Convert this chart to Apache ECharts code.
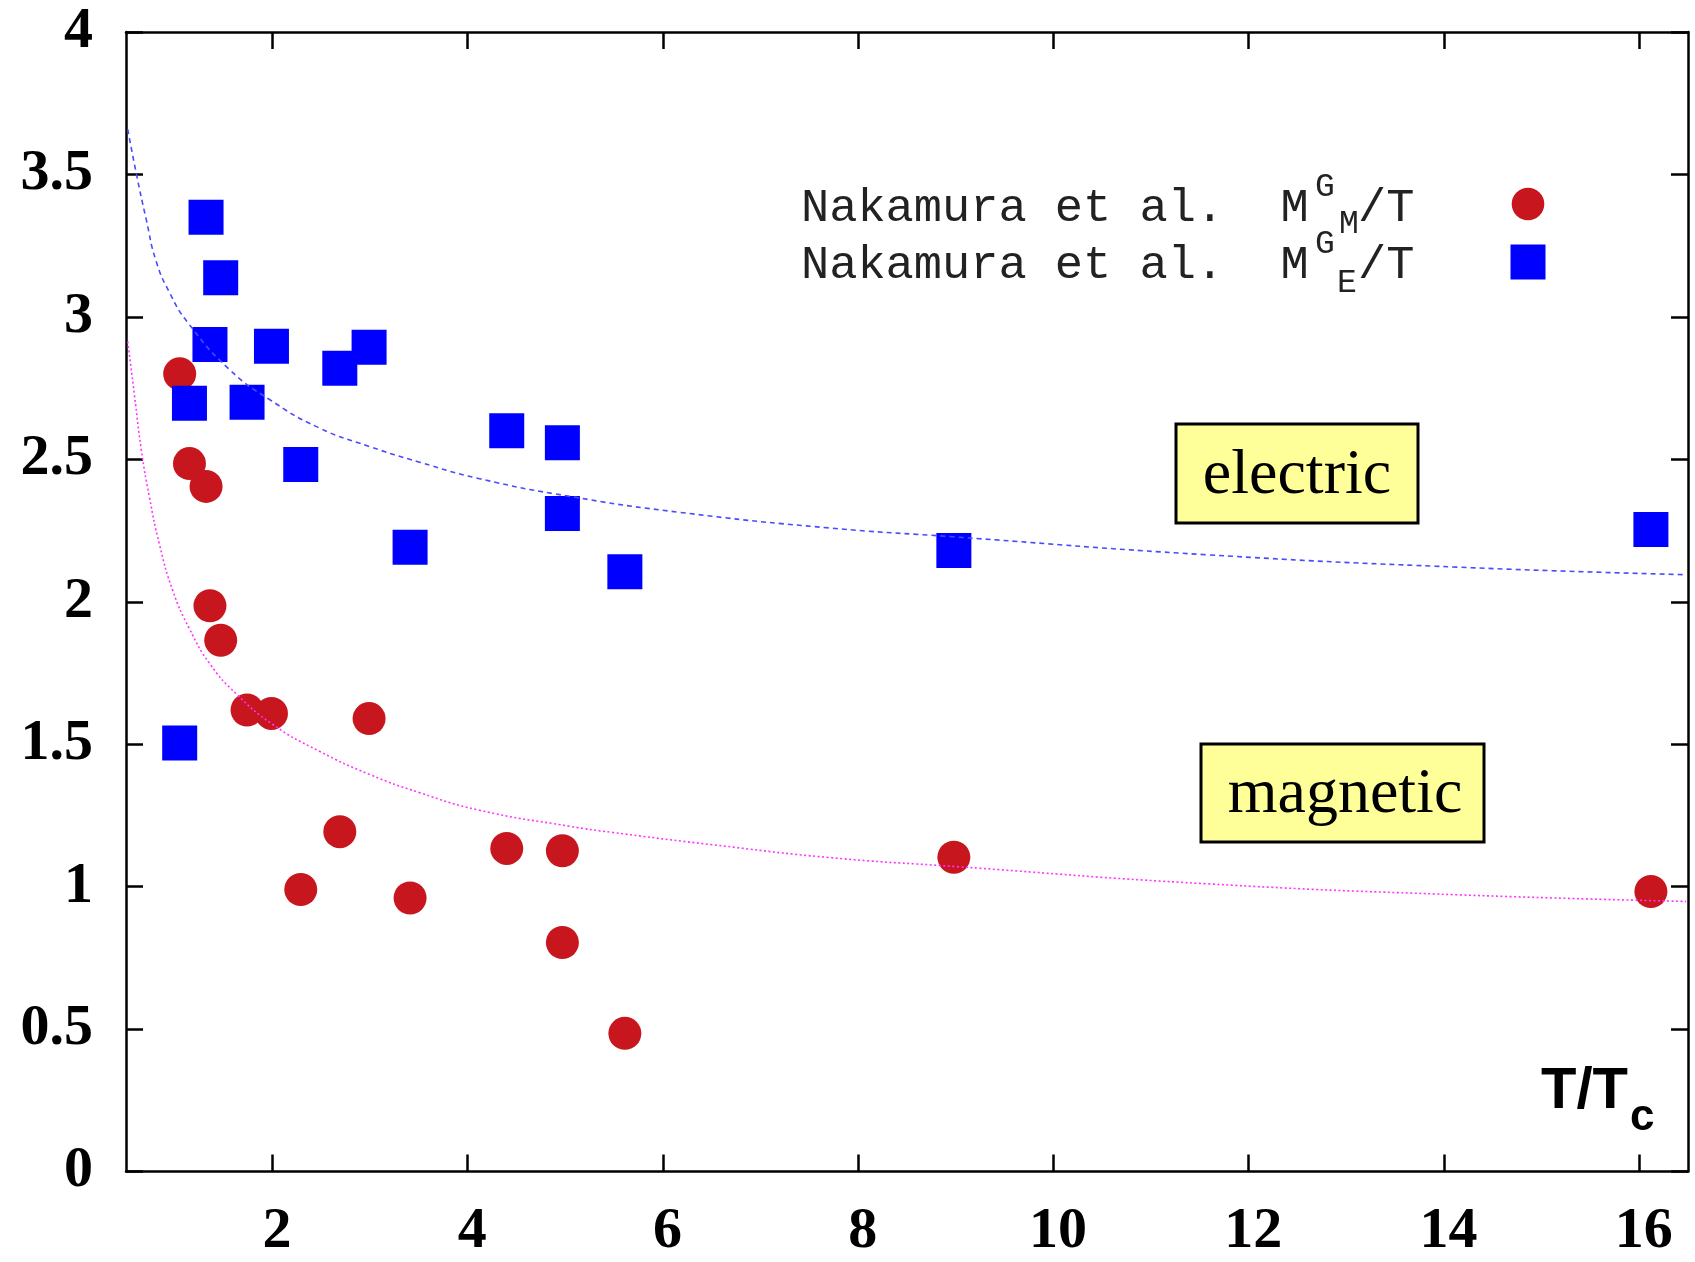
<!DOCTYPE html>
<html>
<head>
<meta charset="utf-8">
<script src="https://cdn.jsdelivr.net/npm/echarts@6/dist/echarts.min.js"></script>
<style>
html,body{margin:0;padding:0;background:#fff;}
#chart{width:1695px;height:1262px;}
</style>
</head>
<body>
<div id="chart"></div>
<script>
// ---- data ----
const temperatures = [1.05, 1.15, 1.32, 1.36, 1.47, 1.74, 1.99, 2.29, 2.69, 2.99, 3.41, 4.40, 4.97, 4.97, 5.61, 8.98, 16.12];
const magneticMass = [2.80, 2.485, 2.405, 1.986, 1.865, 1.62, 1.608, 0.99, 1.193, 1.59, 0.96, 1.134, 1.126, 0.804, 0.485, 1.103, 0.983];
const electricMass = [1.504, 2.697, 3.35, 2.903, 3.137, 2.70, 2.897, 2.482, 2.82, 2.893, 2.191, 2.60, 2.558, 2.31, 2.105, 2.18, 2.254];

const electricFitX = [0.518, 0.604, 0.707, 0.809, 0.946, 1.133, 1.56, 1.97, 2.48, 2.994, 3.506, 4.121, 5.043, 6.17, 7.706, 8.974, 11.57, 14.17, 16.48];
const electricFitY = [3.658, 3.506, 3.342, 3.195, 3.085, 2.980, 2.815, 2.710, 2.610, 2.545, 2.490, 2.432, 2.370, 2.314, 2.259, 2.228, 2.165, 2.121, 2.095];

const magneticFitX = [0.518, 0.587, 0.656, 0.741, 0.843, 0.979, 1.150, 1.355, 1.629, 2.004, 2.482, 2.994, 3.506, 4.121, 5.043, 5.486, 6.51, 7.706, 8.974, 11.57, 14.17, 16.48];
const magneticFitY = [2.913, 2.725, 2.535, 2.365, 2.201, 2.039, 1.905, 1.784, 1.677, 1.569, 1.475, 1.394, 1.330, 1.268, 1.212, 1.190, 1.147, 1.102, 1.071, 1.010, 0.971, 0.948];

const xTickValues = [2, 4, 6, 8, 10, 12, 14, 16];
const xRange = [0.5, 16.5];
const yRange = [0, 4];
const yStep = 0.5;

const legendMain = 'Nakamura et al.  M';
const legendSup = 'G';
const legendSubM = 'M';
const legendSubE = 'E';
const legendTail = '/T';
const boxElectric = 'electric';
const boxMagnetic = 'magnetic';
const xTitle = 'T/T';
const xTitleSub = 'c';

// ---- chart ----
const RED = '#c8161e';
const BLUE = '#0000ff';
const zip = (xs, ys) => xs.map((x, i) => [x, ys[i]]);

const chart = echarts.init(document.getElementById('chart'), null, {renderer: 'canvas'});

const tickFont = {fontFamily: 'Liberation Serif', fontWeight: 'bold', fontSize: 58, color: '#000'};
const lineStyleAxis = {color: '#000', width: 2.5};
const tickStyle = {show: true, inside: true, length: 17, lineStyle: {color: '#000', width: 2.5}};

const monoFont = (size) => `${size}px "Liberation Mono"`;

const option = {
  backgroundColor: '#fff',
  animation: false,
  grid: {left: 126, top: 32, width: 1562, height: 1139.5, containLabel: false, outerBoundsMode: 'none'},
  xAxis: [{
    type: 'value', min: xRange[0], max: xRange[1], position: 'bottom',
    axisLine: {show: true, onZero: false, lineStyle: lineStyleAxis},
    axisTick: Object.assign({}, tickStyle, {customValues: xTickValues}),
    axisLabel: Object.assign({}, tickFont, {customValues: xTickValues, margin: 32, padding: [0, 0, 0, 9], showMinLabel: true, showMaxLabel: true}),
    splitLine: {show: false}
  }, {
    type: 'value', min: xRange[0], max: xRange[1], position: 'top',
    axisLine: {show: true, onZero: false, lineStyle: lineStyleAxis},
    axisTick: Object.assign({}, tickStyle, {customValues: xTickValues}),
    axisLabel: {show: false},
    splitLine: {show: false}
  }],
  yAxis: [{
    type: 'value', min: yRange[0], max: yRange[1], interval: yStep, position: 'left',
    axisLine: {show: true, onZero: false, lineStyle: lineStyleAxis},
    axisTick: tickStyle,
    axisLabel: Object.assign({}, tickFont, {margin: 33, formatter: v => String(v)}),
    splitLine: {show: false}
  }, {
    type: 'value', min: yRange[0], max: yRange[1], interval: yStep, position: 'right',
    axisLine: {show: true, onZero: false, lineStyle: lineStyleAxis},
    axisTick: tickStyle,
    axisLabel: {show: false},
    splitLine: {show: false}
  }],
  series: [{
    name: 'Nakamura et al. M^G_M/T',
    type: 'scatter',
    data: zip(temperatures, magneticMass),
    symbol: 'circle', symbolSize: 33,
    itemStyle: {color: RED, opacity: 1},
    z: 2
  }, {
    name: 'Nakamura et al. M^G_E/T',
    type: 'scatter',
    data: zip(temperatures, electricMass),
    symbol: 'rect', symbolSize: 35,
    itemStyle: {color: BLUE, opacity: 1},
    z: 2
  }, {
    name: 'electric fit',
    type: 'line',
    data: zip(electricFitX, electricFitY),
    smooth: 0.5,
    showSymbol: false, symbol: 'none',
    lineStyle: {color: '#4a4aff', width: 1.6, type: [5, 4]},
    clip: true, z: 3
  }, {
    name: 'magnetic fit',
    type: 'line',
    data: zip(magneticFitX, magneticFitY),
    smooth: 0.5,
    showSymbol: false, symbol: 'none',
    lineStyle: {color: '#ff33ff', width: 1.6, type: [2, 2.5]},
    clip: true, z: 3
  }],
  graphic: [
    // legend line 1
    {type: 'text', x: 801, y: 208.5, style: {text: legendMain, font: monoFont(47), fill: '#222', verticalAlign: 'middle', align: 'left'}},
    {type: 'text', x: 1325, y: 187, style: {text: legendSup, font: monoFont(33), fill: '#222', verticalAlign: 'middle', align: 'center'}},
    {type: 'text', x: 1349, y: 224, style: {text: legendSubM, font: monoFont(33), fill: '#222', verticalAlign: 'middle', align: 'center'}},
    {type: 'text', x: 1358, y: 208.5, style: {text: legendTail, font: monoFont(47), fill: '#222', verticalAlign: 'middle', align: 'left'}},
    {type: 'circle', shape: {cx: 1528, cy: 204, r: 16.3}, style: {fill: RED}},
    // legend line 2
    {type: 'text', x: 801, y: 265.5, style: {text: legendMain, font: monoFont(47), fill: '#222', verticalAlign: 'middle', align: 'left'}},
    {type: 'text', x: 1325, y: 244, style: {text: legendSup, font: monoFont(33), fill: '#222', verticalAlign: 'middle', align: 'center'}},
    {type: 'text', x: 1347, y: 283, style: {text: legendSubE, font: monoFont(33), fill: '#222', verticalAlign: 'middle', align: 'center'}},
    {type: 'text', x: 1358, y: 265.5, style: {text: legendTail, font: monoFont(47), fill: '#222', verticalAlign: 'middle', align: 'left'}},
    {type: 'rect', shape: {x: 1510.5, y: 244.5, width: 35, height: 35}, style: {fill: BLUE}},
    // labelled boxes
    {type: 'rect', shape: {x: 1176, y: 424, width: 242, height: 99}, style: {fill: '#ffff99', stroke: '#000', lineWidth: 3}, z: 10},
    {type: 'text', x: 1297, y: 476.5, style: {text: boxElectric, font: '64px "Liberation Serif"', fill: '#000', verticalAlign: 'middle', align: 'center'}, z: 11},
    {type: 'rect', shape: {x: 1201, y: 744, width: 283, height: 98}, style: {fill: '#ffff99', stroke: '#000', lineWidth: 3}, z: 10},
    {type: 'text', x: 1345, y: 795.5, style: {text: boxMagnetic, font: '64px "Liberation Serif"', fill: '#000', verticalAlign: 'middle', align: 'center'}, z: 11},
    // axis title
    {type: 'text', x: 1541, y: 1091.5, style: {text: xTitle, font: 'bold 58px "Liberation Sans"', fill: '#000', verticalAlign: 'middle', align: 'left'}},
    {type: 'text', x: 1630, y: 1118, style: {text: xTitleSub, font: 'bold 44px "Liberation Sans"', fill: '#000', verticalAlign: 'middle', align: 'left'}}
  ]
};
chart.setOption(option);
</script>
</body>
</html>
